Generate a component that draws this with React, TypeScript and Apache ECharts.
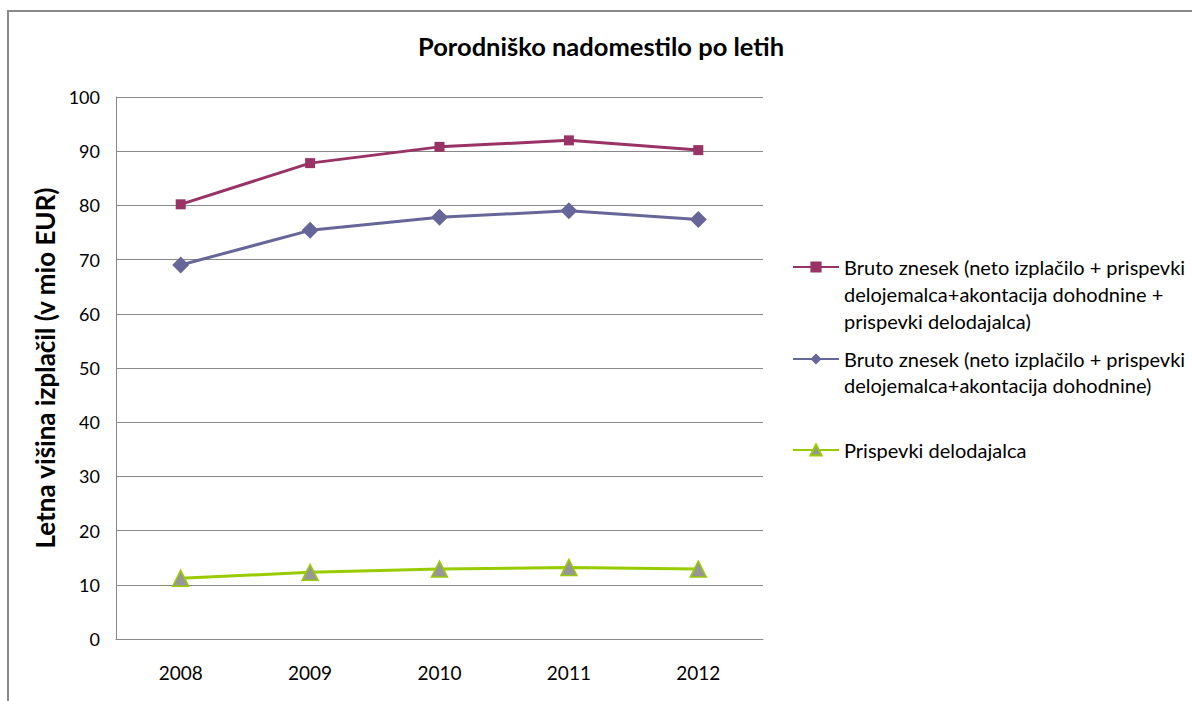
import React, { useEffect, useRef } from "react";
import * as echarts from "echarts";

const years = ["2008", "2009", "2010", "2011", "2012"];
const seriesNames = [
  "Bruto znesek (neto izplačilo + prispevki delojemalca+akontacija dohodnine + prispevki delodajalca)",
  "Bruto znesek (neto izplačilo + prispevki delojemalca+akontacija dohodnine)",
  "Prispevki delodajalca",
];
const legendLabels = [
  ["Bruto znesek (neto izplačilo + prispevki", "delojemalca+akontacija dohodnine +", "prispevki delodajalca)"],
  ["Bruto znesek (neto izplačilo + prispevki", "delojemalca+akontacija dohodnine)"],
  ["Prispevki delodajalca"],
];
const brutoSkupaj = [80.2, 87.8, 90.8, 92.0, 90.2];
const brutoBrez = [69.0, 75.4, 77.8, 79.0, 77.4];
const prispevkiDelodajalca = [11.2, 12.3, 12.9, 13.2, 12.9];
const yMin = 0;
const yMax = 100;
const yStep = 10;

const FONT = "Lato";

export default function App() {
  const ref = useRef<HTMLDivElement>(null);
  useEffect(() => {
    if (!ref.current) return;
    const chart = echarts.init(ref.current, null, { renderer: "svg" });
    const iconCenters = [267, 359, 450];
    const lineHeights = [27, 26, 26];
    const legends = seriesNames.map((n, i) => {
      const lines = legendLabels[i];
      const lh = lineHeights[i];
      const pad = lines.length - 1;
      const all = Array(pad).fill(" ").concat(lines);
      const total = all.length;
      return {
        data: [n],
        left: 792,
        top: iconCenters[i] - (total * lh) / 2,
        padding: 0,
        itemWidth: 46,
        itemHeight: 14,
        itemGap: 0,
        selectedMode: false,
        formatter: () => all.join("\n"),
        textStyle: {
          fontFamily: FONT,
          fontSize: 20,
          color: "#000",
          lineHeight: lh,
        },
      };
    });
    chart.setOption({
      animation: false,
      backgroundColor: "#fff",
      title: {
        text: "Porodniško nadomestilo po letih",
        left: 413,
        top: 28,
        textStyle: { fontFamily: FONT, fontSize: 25.5, fontWeight: "bold", color: "#000" },
      },
      graphic: [
        {
          type: "rect",
          shape: { x: 8, y: 11, width: 1300, height: 800 },
          style: { fill: "none", stroke: "#8a8a8a", lineWidth: 2 },
          silent: true,
        },
      ],
      legend: legends,
      grid: { left: 116, top: 97, right: 429, bottom: 62 },
      xAxis: {
        type: "category",
        data: years,
        boundaryGap: true,
        axisLine: { show: true, lineStyle: { color: "#888", width: 1 } },
        axisTick: { show: false },
        axisLabel: { fontFamily: FONT, fontSize: 19, color: "#000", margin: 24 },
      },
      yAxis: {
        type: "value",
        min: yMin,
        max: yMax,
        interval: yStep,
        name: "Letna višina izplačil (v mio EUR)",
        nameLocation: "middle",
        nameGap: 58,
        nameTextStyle: { fontFamily: FONT, fontSize: 26, fontWeight: "bold", color: "#000" },
        axisLine: { show: true, lineStyle: { color: "#888", width: 1 } },
        axisTick: { show: false },
        splitLine: { show: true, lineStyle: { color: "#888", width: 1 } },
        axisLabel: { fontFamily: FONT, fontSize: 18, color: "#000", margin: 16 },
      },
      series: [
        {
          name: seriesNames[0],
          type: "line",
          data: brutoSkupaj,
          symbol: "rect",
          symbolSize: 10,
          lineStyle: { color: "#993366", width: 3 },
          itemStyle: { color: "#993366" },
        },
        {
          name: seriesNames[1],
          type: "line",
          data: brutoBrez,
          symbol: "diamond",
          symbolSize: 17,
          lineStyle: { color: "#666699", width: 3 },
          itemStyle: { color: "#666699" },
        },
        {
          name: seriesNames[2],
          type: "line",
          data: prispevkiDelodajalca,
          symbol: "triangle",
          symbolSize: [16, 16],
          lineStyle: { color: "#99cc00", width: 3 },
          itemStyle: { color: "#969696", borderColor: "#99cc00", borderWidth: 1.5 },
        },
      ],
    });
    return () => chart.dispose();
  }, []);
  return (
    <div
      ref={ref}
      style={{ position: "fixed", left: 0, top: 0, width: 1192, height: 701 }}
    />
  );
}
